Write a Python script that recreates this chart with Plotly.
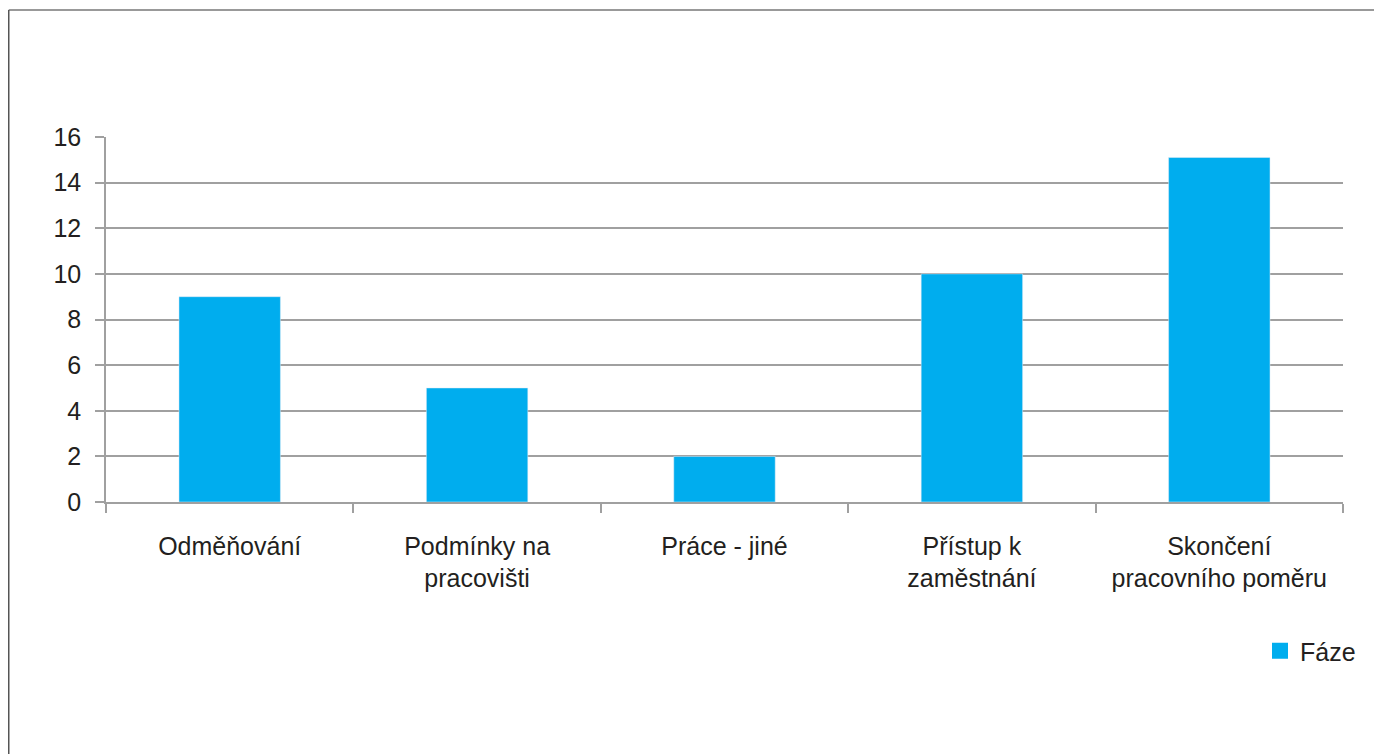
import plotly.graph_objects as go

categories = ["Odměňování", "Podmínky na<br>pracovišti", "Práce - jiné", "Přístup k<br>zaměstnání", "Skončení<br>pracovního poměru"]
values = [9, 5, 2, 10, 15.1]
series_name = "Fáze"
y_ticks = [0, 2, 4, 6, 8, 10, 12, 14, 16]

W, H = 1382, 754
L, R, T, B = 98, 47, 129, 260
pw, ph = W - L - R, H - T - B
COLOR = "#00ADEE"

fig = go.Figure()
fig.add_trace(go.Bar(x=categories, y=values, name=series_name, marker_color=COLOR,
                     showlegend=False))
# legend entry with a larger square swatch
fig.add_trace(go.Scatter(x=[None], y=[None], mode="markers", name=series_name,
                         marker=dict(symbol="square", size=20, color=COLOR), showlegend=True))

fig.update_layout(
    width=W, height=H,
    margin=dict(l=L, r=R, t=T, b=B, autoexpand=False),
    paper_bgcolor="white", plot_bgcolor="white",
    font=dict(family="Liberation Sans, Arial, sans-serif", size=25, color="#231f20"),
    bargap=0.59,
    showlegend=True,
    legend=dict(x=(1252 - L) / pw, y=(494 - 643) / ph, xanchor="left", yanchor="middle",
                font=dict(size=25), itemwidth=30, itemsizing="trace", bgcolor="rgba(0,0,0,0)"),
    xaxis=dict(type="category", showgrid=False, showline=True, linecolor="#a0a0a0", linewidth=1.5,
               ticks="outside", tickson="boundaries", ticklen=9, tickcolor="#a0a0a0", tickwidth=1.5,
               ticklabelstandoff=21, range=[-0.5, 4.5], tickfont=dict(size=25)),
    yaxis=dict(range=[0, 16], tickvals=y_ticks, showgrid=True, gridcolor="#a0a0a0", gridwidth=1.5,
               showline=True, linecolor="#a0a0a0", linewidth=1.5, zeroline=False,
               ticks="outside", ticklen=9, tickcolor="#a0a0a0", tickwidth=1.5,
               ticklabelstandoff=9, tickfont=dict(size=25)),
)

# outer chart frame (top and left edges)
fx0 = (0.75 - L) / pw
fy_top = (H - B - 2) / ph
fig.add_shape(type="line", xref="paper", yref="paper", x0=fx0, x1=(W - L) / pw,
              y0=fy_top, y1=fy_top, line=dict(color="#777777", width=1.5))
fig.add_shape(type="line", xref="paper", yref="paper", x0=fx0, x1=fx0,
              y0=fy_top, y1=-(B + 5) / ph, line=dict(color="#555555", width=1.5))

fig.write_html("out.html")
